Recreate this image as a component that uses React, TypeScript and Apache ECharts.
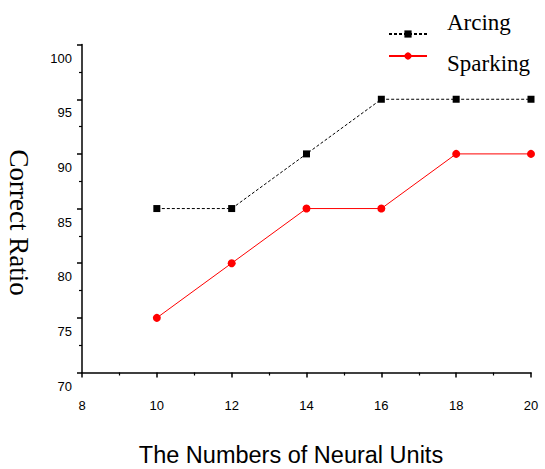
import React, { useEffect, useRef } from "react";
import * as echarts from "echarts";

const xValues = [10, 12, 14, 16, 18, 20];
const arcing = [85, 85, 90, 95, 95, 95];
const sparking = [75, 80, 85, 85, 90, 90];

export default function App() {
  const ref = useRef<HTMLDivElement>(null);
  useEffect(() => {
    const chart = echarts.init(ref.current!, null, { renderer: "svg" });
    const axisCommon = {
      axisLine: { show: true, lineStyle: { color: "#000", width: 1.5 } },
      axisTick: { show: true, inside: false, length: 5, lineStyle: { color: "#000", width: 1.5 } },
      minorTick: { show: true, splitNumber: 2, length: 3, lineStyle: { color: "#000", width: 1.2 } },
      splitLine: { show: false },
    };
    chart.setOption({
      animation: false,
      backgroundColor: "#fff",
      grid: { left: 82, right: 14, top: 44.6, bottom: 96.5, containLabel: false, outerBoundsMode: "none" },
      legend: [
        {
          data: ["Arcing"],
          left: 388,
          top: 10.5,
          itemWidth: 38,
          itemHeight: 9,
          padding: 0,
          formatter: "{t|{name}}",
          textStyle: {
            color: "#000",
            rich: { t: { fontFamily: "Liberation Serif", fontSize: 23, color: "#000", padding: [0, 0, 24, 15], lineHeight: 23 } },
          },
        },
        {
          data: ["Sparking"],
          left: 388,
          top: 37.5,
          itemWidth: 38,
          itemHeight: 9,
          padding: 0,
          formatter: "{t|{name}}",
          textStyle: {
            color: "#000",
            rich: { t: { fontFamily: "Liberation Serif", fontSize: 23, color: "#000", padding: [14, 0, 0, 15], lineHeight: 23 } },
          },
        },
      ],
      xAxis: {
        type: "value",
        min: 8,
        max: 20,
        interval: 2,
        name: "The Numbers of Neural Units",
        nameLocation: "middle",
        nameGap: 70,
        nameTextStyle: { fontFamily: "Liberation Sans", fontSize: 23.5, color: "#000", padding: [0, 31, 0, 0] },
        axisLabel: { fontFamily: "Liberation Sans", fontSize: 13, color: "#000", margin: 26 },
        ...axisCommon,
      },
      yAxis: {
        type: "value",
        min: 70,
        max: 100,
        interval: 5,
        name: "Correct Ratio",
        nameLocation: "middle",
        nameRotate: -90,
        nameGap: 50,
        nameTextStyle: { fontFamily: "Liberation Serif", fontSize: 27, color: "#000", padding: [0, 0, 0, 28] },
        axisLabel: {
          fontFamily: "Liberation Sans",
          fontSize: 13,
          color: "#000",
          margin: 10,
          verticalAlign: "top",
          lineHeight: 15,
          padding: [6, 0, 0, 0],
        },
        ...axisCommon,
      },
      series: [
        {
          name: "Arcing",
          type: "line",
          data: xValues.map((x, i) => [x, arcing[i]]),
          symbol: "rect",
          symbolSize: 7,
          itemStyle: { color: "#000" },
          lineStyle: { color: "#000", width: 1, type: [3, 2] },
        },
        {
          name: "Sparking",
          type: "line",
          data: xValues.map((x, i) => [x, sparking[i]]),
          symbol: "circle",
          symbolSize: 8,
          itemStyle: { color: "#ff0000" },
          lineStyle: { color: "#ff0000", width: 1 },
        },
      ],
    });
    return () => chart.dispose();
  }, []);
  return <div ref={ref} style={{ width: 545, height: 469, position: "absolute", left: 0, top: 0 }} />;
}
